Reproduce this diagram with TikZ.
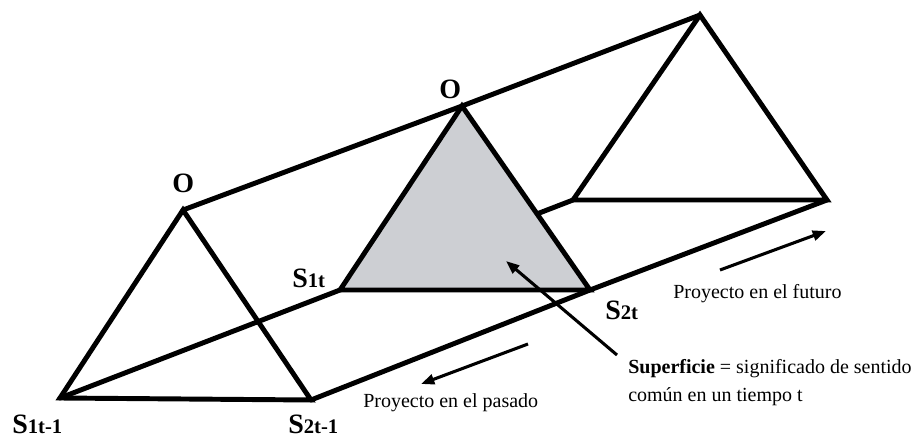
\documentclass[tikz,border=0pt]{standalone}
\usepackage{fontspec}
\setmainfont{Liberation Serif}
\usetikzlibrary{arrows.meta}
\definecolor{facegray}{RGB}{205,207,211}
\tikzset{
  edge/.style={line width=3.7pt, line join=miter, line cap=round},
  ptr/.style={line width=2.3pt, -{Triangle[length=10pt,width=7.5pt]}},
  lbl/.style={inner sep=0pt, anchor=base west, font=\fontsize{21}{21}\selectfont\bfseries},
  txt/.style={inner sep=0pt, anchor=base west, font=\fontsize{15}{18}\selectfont},
}
\newcommand{\subl}[1]{{\fontsize{15.5}{15.5}\selectfont #1}}
\begin{document}
\begin{tikzpicture}[x=0.75pt,y=-0.75pt]
\useasboundingbox (0,0) rectangle (915,439);
% vertices
\coordinate (OL) at (183,210);
\coordinate (A1) at (60,398);
\coordinate (A2) at (311,400);
\coordinate (OM) at (462,106);
\coordinate (B1) at (340,290);
\coordinate (B2) at (590,290);
\coordinate (OR) at (700,15);
\coordinate (C1) at (573,200);
\coordinate (C2) at (827,200);
% back line
\draw[edge] (A1) -- (B1) -- (C1);
% top ridge
\draw[edge] (OL) -- (OM) -- (OR);
% shaded middle triangle
\filldraw[edge, fill=facegray] (OM) -- (B2) -- (B1) -- cycle;
% left and right triangles
\draw[edge] (OL) -- (A2) -- (A1) -- cycle;
\draw[edge] (OR) -- (C2) -- (C1) -- cycle;
% front line
\draw[edge] (A2) -- (B2) -- (C2);
% arrows
\coordinate (f0) at (720,270);
\coordinate (f1) at (826,231);
\coordinate (p0) at (528,344);
\coordinate (p1) at (421,384);
\coordinate (s0) at (617,355);
\coordinate (s1) at (506,261);
\draw[ptr] (f0) -- (f1);
\draw[ptr] (p0) -- (p1);
\draw[ptr] (s0) -- (s1);
% labels
\node[lbl] (lOL) at (172,192) {O};
\node[lbl] (lOM) at (439,98) {O};
\node[lbl] (lA1) at (12,433) {S\subl{1t-1}};
\node[lbl] (lA2) at (288,433) {S\subl{2t-1}};
\node[lbl] (lB1) at (292,287) {S\subl{1t}};
\node[lbl] (lB2) at (605,319) {S\subl{2t}};
% texts
\node[txt] (tfut) at (673,298) {Proyecto en el futuro};
\node[txt] (tpas) at (363,407) {Proyecto en el pasado};
\node[txt] (tsup1) at (628,373) {\textbf{Superficie} = significado de sentido};
\node[txt] (tsup2) at (628,401) {común en un tiempo t};
\end{tikzpicture}
\end{document}
